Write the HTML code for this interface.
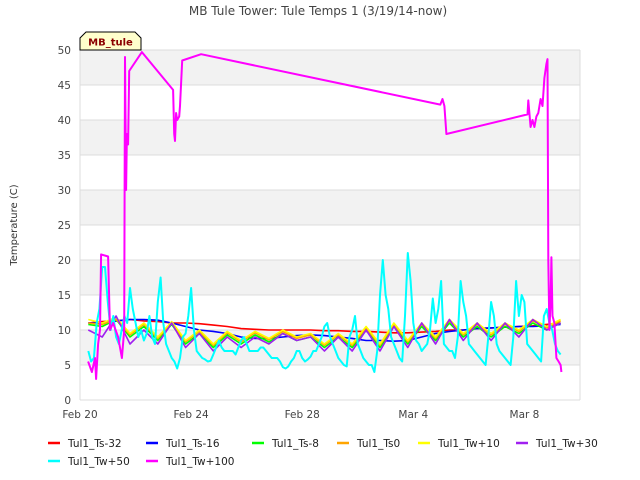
<!DOCTYPE html>
<html><head><meta charset="utf-8"><style>
body{margin:0;background:#fff;}
svg{display:block;font-family:"DejaVu Sans","Liberation Sans",sans-serif;}
</style></head><body>
<svg id="chart" width="640" height="480">
<text x="318" y="15" text-anchor="middle" font-size="12" fill="#444">MB Tule Tower: Tule Temps 1 (3/19/14-now)</text>
<g id="grid"></g>
<g id="axes"></g>
<g id="series"></g>
<text transform="translate(17,225) rotate(-90)" text-anchor="middle" font-size="10" fill="#333">Temperature (C)</text>
<g>
<path d="M80,50 L80,38 L86,32 L135,32 L141,38 L141,50 Z" fill="#ffffcc" stroke="#000" stroke-width="1"/>
<text x="110.5" y="45.5" text-anchor="middle" font-size="10" font-weight="bold" fill="#8b0000">MB_tule</text>
</g>
<g id="legend"></g>
</svg>
<script>
const yTicks=[0,5,10,15,20,25,30,35,40,45,50];
const xTickDays=[0,4,8,12,16];
const xTickLabels=["Feb 20","Feb 24","Feb 28","Mar 4","Mar 8"];
const seriesNames=["Tul1_Ts-32","Tul1_Ts-16","Tul1_Ts-8","Tul1_Ts0","Tul1_Tw+10","Tul1_Tw+30","Tul1_Tw+50","Tul1_Tw+100"];
const seriesColors=["#ff0000","#0000ff","#00ff00","#ffa500","#ffff00","#a020f0","#00ffff","#ff00ff"];
const gridStart=0.3, gridStep=0.5;
const red=[11,11.2,11.3,11.5,11.3,11.2,11,11,10.9,10.7,10.5,10.2,10.1,10,10,10,10,9.9,9.9,9.8,9.8,9.7,9.6,9.6,9.7,9.8,10,10,10.2,10.3,10.4,10.5,10.6,10.8,11];
const blue=[11,11,11.3,11.5,11.5,11.4,11,10.5,10,9.8,9.5,9,8.8,8.8,9,9.2,9.3,9.2,9,8.8,8.5,8.5,8.4,8.5,9,9.5,9.8,10,10.2,10.3,10.4,10.5,10.5,10.6,10.8];
const green=[10.8,10.5,11.5,9,10.5,8.5,10.8,8,9.5,7.5,9.3,8,9.3,8.3,9.5,8.5,9,7.5,9,7.5,10,7.5,10.5,8,10.5,8.5,11,9,10.5,9,10.5,9.5,11,10,11];
const orange=[11,10.8,11.5,9.3,10.8,8.8,11,8.3,9.8,7.8,9.6,8.3,9.6,8.6,9.8,8.8,9.3,7.8,9.3,7.8,10.3,7.8,10.8,8.3,10.8,8.8,11.3,9.3,10.8,9.3,10.8,9.8,11.3,10.3,11.3];
const yellow=[11.5,11,11.8,9.5,11,9,11.2,8.5,10,8,9.8,8.5,9.8,8.8,10,9,9.5,8,9.5,8,10.5,8,11,8.5,11,9,11.5,9.5,11,9.5,11,10,11.5,10.5,11.5];
const purple=[10,9,12,8,10,8,11,7.5,9.5,7,9,7.5,9,8,9.5,8.5,9,7,9,7,10,7,10.5,7.5,11,8,11.5,8.5,11,8.5,11,9,11.5,10,11];
const cyanStart=0.3, cyanStep=0.1;
const cyan=[7,5.5,6,11,13,19,19,14,10,12,9,8,10,12,11,16,13,11,9,10,8.5,9.5,12,9,8,14,17.5,11,8,7,6,5.5,4.5,6,9,9.5,12,16,10,7,6.5,6,5.8,5.5,5.6,6.5,7.5,8.5,7.5,7,7,7,7,6.5,7.5,8.5,9,8,7,7,7,7,7.5,7.5,7,6.5,6,6,6,5.5,4.7,4.5,4.8,5.5,6,7,7,6,5.5,5.8,6.2,7,7,8,9,10.5,11,9,8,7,6,5.5,5,4.8,9,10,12,8,7,6,5.5,5,5,4,7,15,20,15,13,9,8,7,6,5.5,12,21,17,11,8.5,8,7,7.5,8,10,14.5,11,13,17,8,7.5,7,7,6,9,17,14,12,8,7.5,7,6.5,6,5.5,5,9,14,12,8,7,6.5,6,5.5,5,9,17,12,15,14,8,7.5,7,6.5,6,5.5,12,13,11,10,8,7,6.5];
const magentaDays=[0.29,0.43,0.54,0.58,0.65,0.72,0.76,1.01,1.08,1.19,1.37,1.51,1.59,1.62,1.66,1.69,1.73,1.77,2.23,3.35,3.39,3.42,3.46,3.50,3.57,3.60,3.68,4.36,12.97,13.05,13.12,13.19,16.11,16.14,16.22,16.29,16.36,16.43,16.50,16.58,16.65,16.72,16.79,16.83,16.86,16.90,16.94,16.97,17.01,17.08,17.15,17.23,17.30,17.33];
const magenta=[5.5,4,6,3,8,10,20.8,20.5,10,11,9,6,10,49,30,38,36.5,47,49.7,44.3,38,37,41,40,40.5,42,48.5,49.4,42.2,43,42,38,40.8,42.8,39,40,39,40.5,41,43,42,46,48,48.7,20,10,14,20.4,12,11,6,5.5,5,4];

const X0=80,X1=580,Y0=400,Y1=50,DMAX=18,VMAX=50;
const xs=d=>X0+(d/DMAX)*(X1-X0);
const ys=v=>Y0-(v/VMAX)*(Y0-Y1);
const NS="http://www.w3.org/2000/svg";
function mk(tag,attrs,parent){const e=document.createElementNS(NS,tag);for(const k in attrs)e.setAttribute(k,attrs[k]);parent.appendChild(e);return e;}
const grid=document.getElementById('grid'),axes=document.getElementById('axes'),ser=document.getElementById('series'),leg=document.getElementById('legend');
mk('rect',{x:X0,y:Y1,width:X1-X0,height:Y0-Y1,fill:'#fff'},grid);
for(let i=0;i<yTicks.length-1;i++){
  if(i%2===1){const b=mk('rect',{x:X0,y:ys(yTicks[i+1]),width:X1-X0,height:ys(yTicks[i])-ys(yTicks[i+1]),fill:'#f2f2f2'},grid);
  
  }
}
yTicks.forEach(v=>{
  const l=mk('line',{x1:X0,x2:X1,y1:ys(v),y2:ys(v),stroke:'#dcdcdc','stroke-width':1},grid);
  
  
  const t=mk('text',{x:X0-9,y:ys(v)+4,'text-anchor':'end','font-size':10.5,fill:'#444'},axes);
  t.textContent=v;
  
  
});
mk('line',{x1:X0,x2:X0,y1:Y1,y2:Y0,stroke:'#dcdcdc'},grid);
mk('line',{x1:X1,x2:X1,y1:Y1,y2:Y0,stroke:'#dcdcdc'},grid);
xTickDays.forEach((d,i)=>{
  const t=mk('text',{x:xs(d),y:Y0+18,'text-anchor':'middle','font-size':10.5,fill:'#444'},axes);
  t.textContent=xTickLabels[i];
  
  
});
function gridDays(start,step,n){const a=[];for(let i=0;i<n;i++)a.push(start+i*step);return a;}
const all=[
 [gridDays(gridStart,gridStep,red.length),red],
 [gridDays(gridStart,gridStep,blue.length),blue],
 [gridDays(gridStart,gridStep,green.length),green],
 [gridDays(gridStart,gridStep,orange.length),orange],
 [gridDays(gridStart,gridStep,yellow.length),yellow],
 [gridDays(gridStart,gridStep,purple.length),purple],
 [gridDays(cyanStart,cyanStep,cyan.length),cyan],
 [magentaDays,magenta]
];
all.forEach((s,i)=>{
  const pts=s[0].map((d,j)=>xs(d).toFixed(1)+','+ys(s[1][j]).toFixed(1)).join(' ');
  const p=mk('polyline',{points:pts,fill:'none',stroke:seriesColors[i],'stroke-width':(i===6||i===7)?2:1.6,'stroke-linejoin':'round'},ser);
  
  
});
const legPos=[[48,443],[146,443],[252,443],[337,443],[418,443],[516,443],[48,461],[146,461]];
seriesNames.forEach((n,i)=>{
  const g=mk('g',{},leg);
  
  
  mk('line',{x1:legPos[i][0],x2:legPos[i][0]+12,y1:legPos[i][1],y2:legPos[i][1],stroke:seriesColors[i],'stroke-width':2.5},g);
  const t=mk('text',{x:legPos[i][0]+20,y:legPos[i][1]+4,'font-size':10.5,fill:'#222'},g);
  t.textContent=n;
});
</script>
</body></html>
